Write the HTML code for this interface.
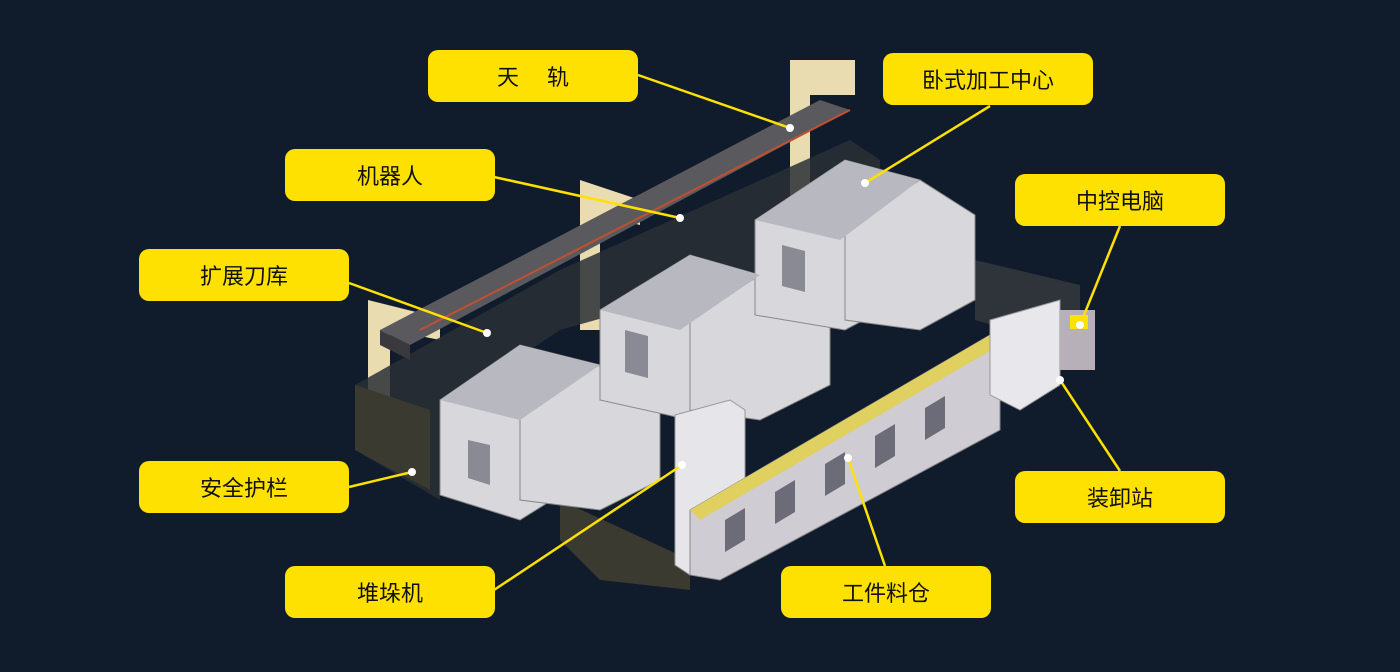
<!DOCTYPE html>
<html><head><meta charset="utf-8"><style>
body{margin:0;width:1400px;height:672px;background:#101b2b;overflow:hidden;position:relative;font-family:"Liberation Sans","Noto Sans CJK SC",sans-serif}
.l{position:absolute;width:210px;height:52px;background:#ffe100;border-radius:10px;color:#111;font-size:22px;display:flex;align-items:center;justify-content:center}
svg{position:absolute;left:0;top:0}
</style></head><body>
<svg width="1400" height="672">
<!-- rail supports -->
<polygon points="790,60 855,60 855,95 810,95 810,200 790,200" fill="#e8dcb0"/>
<polygon points="580,180 640,200 640,225 600,215 600,330 580,330" fill="#e8dcb0"/>
<polygon points="368,300 440,318 440,340 390,330 390,440 368,430" fill="#e8dcb0"/>
<!-- fences -->
<polygon points="355,385 560,270 850,140 880,160 880,240 560,330 440,410 440,500 355,450" fill="#2a2f36" opacity=".85"/>
<polygon points="380,330 820,100 850,110 410,345" fill="#5a5a5e"/>
<polygon points="380,330 410,345 410,360 380,345" fill="#3a3a3e"/>
<line x1="420" y1="330" x2="850" y2="110" stroke="#c05030" stroke-width="2"/>
<polygon points="355,385 430,410 430,490 355,450" fill="#3a3a30"/>
<polygon points="560,500 690,560 690,590 600,580 560,540" fill="#3a3a30"/>
<polygon points="975,260 1080,285 1080,350 975,320" fill="#2f333a"/>
<!-- machines -->
<g fill="#d8d8dc" stroke="#888" stroke-width="1">
<polygon points="440,400 520,345 600,365 600,470 520,520 440,495"/>
<polygon points="520,405 600,365 660,390 660,480 600,510 520,500"/>
<polygon points="600,310 690,255 760,275 760,380 690,420 600,400"/>
<polygon points="690,320 760,275 830,300 830,385 760,420 690,410"/>
<polygon points="755,220 845,160 920,180 920,290 845,330 755,315"/>
<polygon points="845,230 920,180 975,215 975,300 920,330 845,320"/>
</g>
<g fill="#b8b8c0">
<polygon points="440,400 520,345 600,365 520,420"/>
<polygon points="600,310 690,255 760,275 680,330"/>
<polygon points="755,220 845,160 920,180 840,240"/>
</g>
<g fill="#8a8a94">
<polygon points="468,440 490,445 490,485 468,478"/>
<polygon points="625,330 648,336 648,378 625,372"/>
<polygon points="782,245 805,251 805,292 782,286"/>
</g>
<!-- stacker -->
<polygon points="675,415 730,400 745,410 745,560 690,575 675,565" fill="#e6e6ea" stroke="#999"/>
<!-- rack -->
<polygon points="690,510 990,335 1000,345 1000,430 720,580 690,575" fill="#d0ccd4" stroke="#888"/>
<polygon points="690,510 990,335 1000,345 700,520" fill="#e0d060"/>
<g fill="#6c6c78">
<polygon points="725,520 745,508 745,540 725,552"/>
<polygon points="775,492 795,480 795,512 775,524"/>
<polygon points="825,464 845,452 845,484 825,496"/>
<polygon points="875,436 895,424 895,456 875,468"/>
<polygon points="925,408 945,396 945,428 925,440"/>
</g>
<!-- load station -->
<polygon points="990,320 1060,300 1060,385 1020,410 990,395" fill="#e8e8ec" stroke="#999"/>
<rect x="1060" y="310" width="35" height="60" fill="#b8b0b8"/>
<rect x="1070" y="315" width="18" height="14" fill="#ffe100"/>
<!-- leader lines -->
<g stroke="#ffe100" stroke-width="2.5">
<line x1="638" y1="75" x2="790" y2="128"/>
<line x1="990" y1="106" x2="865" y2="183"/>
<line x1="494" y1="177" x2="680" y2="218"/>
<line x1="1120" y1="226" x2="1080" y2="325"/>
<line x1="349" y1="283" x2="487" y2="333"/>
<line x1="349" y1="487" x2="412" y2="472"/>
<line x1="1120" y1="471" x2="1060" y2="380"/>
<line x1="494" y1="590" x2="682" y2="465"/>
<line x1="885" y1="566" x2="848" y2="458"/>
</g>
<g fill="#fff">
<circle cx="790" cy="128" r="4"/><circle cx="865" cy="183" r="4"/><circle cx="680" cy="218" r="4"/>
<circle cx="1080" cy="325" r="4"/><circle cx="487" cy="333" r="4"/><circle cx="412" cy="472" r="4"/>
<circle cx="1060" cy="380" r="4"/><circle cx="682" cy="465" r="4"/><circle cx="848" cy="458" r="4"/>
</g>
</svg>
<div class="l" style="left:428px;top:50px">天&emsp;&nbsp;轨</div>
<div class="l" style="left:883px;top:53px">卧式加工中心</div>
<div class="l" style="left:285px;top:149px">机器人</div>
<div class="l" style="left:1015px;top:174px">中控电脑</div>
<div class="l" style="left:139px;top:249px">扩展刀库</div>
<div class="l" style="left:139px;top:461px">安全护栏</div>
<div class="l" style="left:1015px;top:471px">装卸站</div>
<div class="l" style="left:285px;top:566px">堆垛机</div>
<div class="l" style="left:781px;top:566px">工件料仓</div>
</body></html>
